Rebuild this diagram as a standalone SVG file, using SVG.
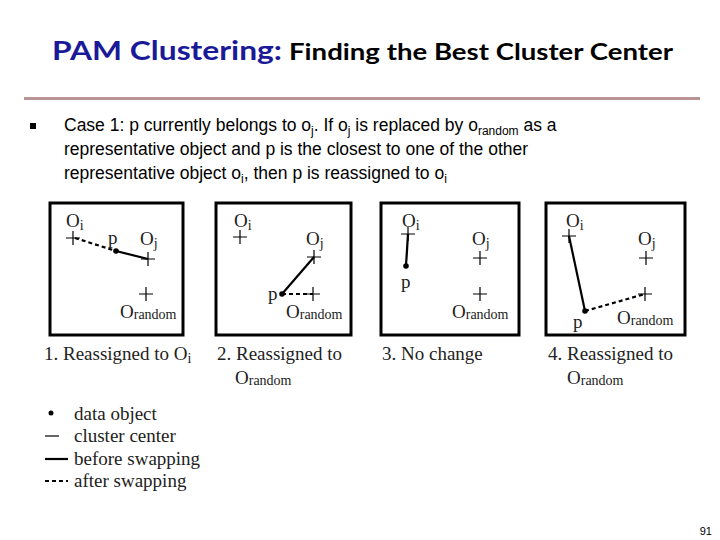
<svg xmlns="http://www.w3.org/2000/svg" width="720" height="540" viewBox="0 0 720 540">
<style>
.t{font-family:"Liberation Serif",serif;font-size:19px;fill:#222}
.s{font-size:14px}
.b{font-family:"Liberation Sans",sans-serif;font-size:17.5px;fill:#000}
.box{fill:#fff;stroke:#000;stroke-width:3}
.pl{stroke:#000;stroke-width:1.2}
.sol{stroke:#000;stroke-width:2.2}
.das{stroke:#000;stroke-width:2.2;stroke-dasharray:4,3}
</style>
<defs><path id="plus" d="M-7 0H7M0 -7V7" class="pl" fill="none"/></defs>
<rect width="720" height="540" fill="#fff"/>
<text x="52" y="60" font-family="Lato,sans-serif" font-weight="bold" font-size="27" fill="#1a1a99" textLength="230" lengthAdjust="spacingAndGlyphs">PAM Clustering:</text>
<text x="289" y="60" font-family="Lato,sans-serif" font-weight="bold" font-size="22" fill="#000" textLength="384" lengthAdjust="spacingAndGlyphs">Finding the Best Cluster Center</text>
<rect x="24" y="97" width="676" height="3" fill="#b89494"/>
<rect x="30" y="123" width="6" height="6" fill="#000"/>
<text class="b" x="64" y="131">Case 1: p currently belongs to o<tspan font-size="12" dy="4">j</tspan><tspan dy="-4">.  If o</tspan><tspan font-size="12" dy="4">j</tspan><tspan dy="-4"> is replaced by o</tspan><tspan font-size="12" dy="4">random</tspan><tspan dy="-4"> as a</tspan></text>
<text class="b" x="64" y="155">representative object and p is the closest to one of the other</text>
<text class="b" x="64" y="179">representative object o<tspan font-size="12" dy="4">i</tspan><tspan dy="-4">, then p is reassigned to o</tspan><tspan font-size="12" dy="4">i</tspan></text>
<g id="box1"><rect class="box" x="50" y="203" width="133" height="132"/>
<line class="das" x1="75" y1="238" x2="116" y2="251"/><line class="sol" x1="116" y1="251" x2="148" y2="259"/>
<use href="#plus" x="73" y="238"/><use href="#plus" x="148" y="259"/><use href="#plus" x="146" y="294"/><circle cx="116" cy="251" r="2.8"/>
<text class="t" x="66" y="227">O<tspan class="s" dy="3">i</tspan></text><text class="t" x="108" y="244">p</text><text class="t" x="140" y="245">O<tspan class="s" dy="3">j</tspan></text><text class="t" x="120" y="318">O<tspan class="s" dy="1">random</tspan></text>
<text class="t" x="44" y="360">1. Reassigned to O<tspan class="s" dy="3">i</tspan></text></g>
<g id="box2"><rect class="box" x="216" y="203" width="135" height="132"/>
<line class="sol" x1="282" y1="294" x2="314" y2="257"/><line class="das" x1="282" y1="294" x2="313" y2="294"/>
<use href="#plus" x="240" y="237"/><use href="#plus" x="314" y="257"/><use href="#plus" x="313" y="294"/><circle cx="282" cy="294" r="2.8"/>
<text class="t" x="234" y="227">O<tspan class="s" dy="3">i</tspan></text><text class="t" x="306" y="245">O<tspan class="s" dy="3">j</tspan></text><text class="t" x="268" y="300">p</text><text class="t" x="286" y="318">O<tspan class="s" dy="1">random</tspan></text>
<text class="t" x="217" y="360">2. Reassigned to</text><text class="t" x="235" y="384">O<tspan class="s" dy="1">random</tspan></text></g>
<g id="box3"><rect class="box" x="381" y="203" width="138" height="132"/>
<line class="sol" x1="408" y1="234" x2="406" y2="266"/>
<use href="#plus" x="408" y="234"/><use href="#plus" x="480" y="258"/><use href="#plus" x="480" y="294"/><circle cx="406" cy="266" r="2.8"/>
<text class="t" x="402" y="227">O<tspan class="s" dy="3">i</tspan></text><text class="t" x="472" y="245">O<tspan class="s" dy="3">j</tspan></text><text class="t" x="401" y="288">p</text><text class="t" x="452" y="318">O<tspan class="s" dy="1">random</tspan></text>
<text class="t" x="382" y="360">3. No change</text></g>
<g id="box4"><rect class="box" x="546" y="203" width="139" height="132"/>
<line class="sol" x1="569" y1="236" x2="585" y2="311"/><line class="das" x1="585" y1="311" x2="645" y2="294"/>
<use href="#plus" x="569" y="236"/><use href="#plus" x="646" y="258"/><use href="#plus" x="645" y="294"/><circle cx="585" cy="311" r="2.8"/>
<text class="t" x="566" y="227">O<tspan class="s" dy="3">i</tspan></text><text class="t" x="638" y="245">O<tspan class="s" dy="3">j</tspan></text><text class="t" x="573" y="328">p</text><text class="t" x="617" y="324">O<tspan class="s" dy="1">random</tspan></text>
<text class="t" x="548" y="360">4. Reassigned to</text><text class="t" x="567" y="384">O<tspan class="s" dy="1">random</tspan></text></g>
<g id="legend">
<circle cx="51" cy="413" r="2.5"/><text class="t" x="74" y="420">data object</text>
<line class="pl" x1="45" y1="436" x2="59" y2="436"/><text class="t" x="74" y="442">cluster center</text>
<line class="sol" x1="45" y1="459" x2="68" y2="459"/><text class="t" x="74" y="465">before swapping</text>
<line class="das" x1="45" y1="481" x2="68" y2="481"/><text class="t" x="74" y="487">after swapping</text>
</g>
<text x="712" y="535" text-anchor="end" font-family="Liberation Sans,sans-serif" font-size="11">91</text>
</svg>
